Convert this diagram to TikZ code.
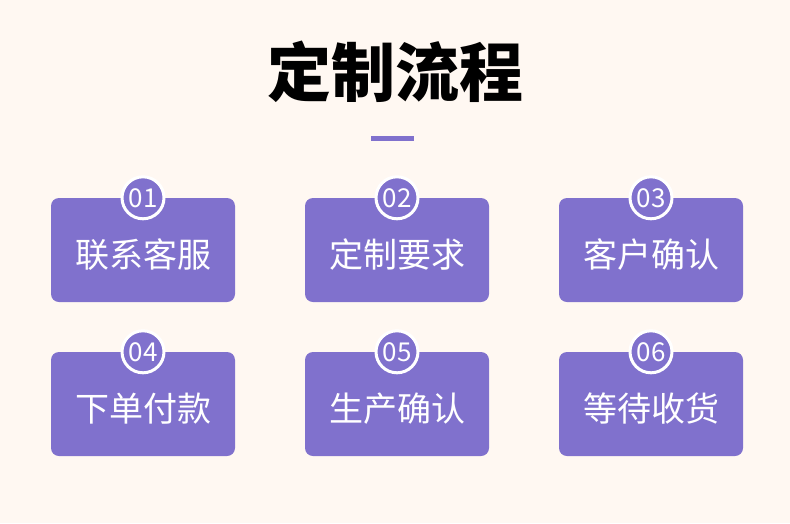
\documentclass[tikz,border=0pt]{standalone}
\usepackage{fontspec}
\newfontfamily\cjk{Noto Sans CJK SC}
\definecolor{bgcream}{RGB}{255,248,242}
\definecolor{lavender}{RGB}{128,113,205}
\begin{document}
\begin{tikzpicture}[x=1pt,y=-1pt,
	stepcard/.style={fill=lavender,rounded corners=8pt,minimum width=184pt,minimum height=104pt,inner sep=0pt},
	badge/.style={circle,fill=lavender,draw=white,line width=3pt,minimum size=42pt,inner sep=0pt,text=white,font=\cjk\fontsize{26}{26}\selectfont},
	cardtext/.style={text=white,inner sep=0pt,font=\cjk\fontsize{34}{34}\selectfont}]
	\fill[bgcream](0,0) rectangle (790,523);
	\node[font=\cjk\bfseries\fontsize{64}{64}\selectfont] (title) at (395,72) {定制流程};
	\fill[lavender](371,136) rectangle (414,141);
	\foreach \n/\t/\cx/\cy in {01/联系客服/143/250,02/定制要求/397/250,03/客户确认/651/250,04/下单付款/143/404,05/生产确认/397/404,06/等待收货/651/404}{
		\node[stepcard] (card\n) at (\cx,\cy) {};
		\node[cardtext] (label\n) at (\cx,\cy+5) {\t};
		\node[badge] (badge\n) at (card\n.north) {\n};
	}
\end{tikzpicture}
\end{document}
